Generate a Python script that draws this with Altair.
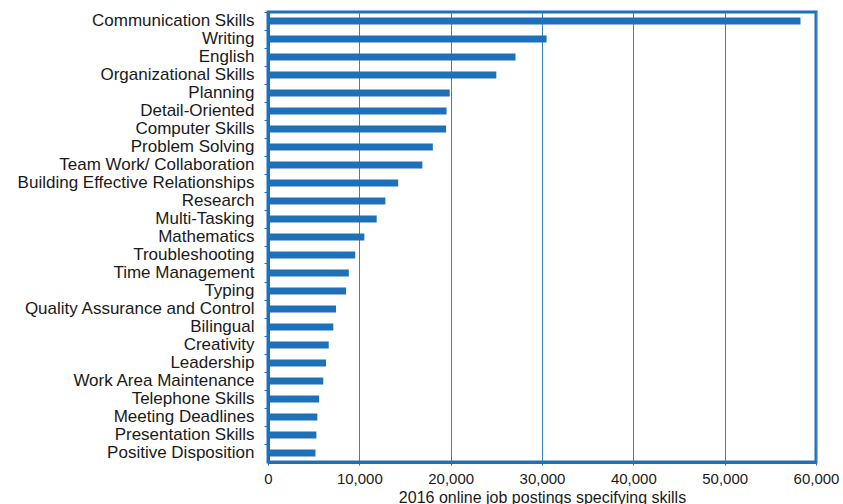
import altair as alt
import pandas as pd

skills = [
    "Communication Skills", "Writing", "English", "Organizational Skills",
    "Planning", "Detail-Oriented", "Computer Skills", "Problem Solving",
    "Team Work/ Collaboration", "Building Effective Relationships", "Research",
    "Multi-Tasking", "Mathematics", "Troubleshooting", "Time Management",
    "Typing", "Quality Assurance and Control", "Bilingual", "Creativity",
    "Leadership", "Work Area Maintenance", "Telephone Skills",
    "Meeting Deadlines", "Presentation Skills", "Positive Disposition",
]
postings = [
    58300, 30500, 27100, 25000,
    19900, 19550, 19500, 18050,
    16900, 14250, 12850,
    11900, 10550, 9550, 8850,
    8550, 7450, 7150, 6650,
    6350, 6050, 5600,
    5400, 5300, 5200,
]
x_ticks = [0, 10000, 20000, 30000, 40000, 50000, 60000]

BLUE = "#1e70b8"
TEXT = "#1a1a1a"
FONT = "Liberation Sans"

df = pd.DataFrame({"skill": skills, "postings": postings})

bars = alt.Chart(df).mark_bar(color=BLUE).encode(
    x=alt.X(
        "postings:Q",
        scale=alt.Scale(domain=[0, 60000], nice=False),
        axis=alt.Axis(
            values=x_ticks,
            format=",d",
            title="2016 online job postings specifying skills",
            grid=True,
            gridColor="#3a7fc1",
            gridWidth=1,
            domainColor=BLUE,
            domainWidth=3,
            tickColor=BLUE,
            tickSize=3,
            labelFlush=False,
            labelPadding=6,
            labelFontSize=15,
            labelColor=TEXT,
            labelFont=FONT,
            titleFont=FONT,
            titleFontSize=16,
            titleFontWeight="normal",
            titleColor=TEXT,
            titlePadding=3,
        ),
    ),
    y=alt.Y(
        "skill:N",
        sort=skills,
        scale=alt.Scale(paddingInner=0.6, paddingOuter=0.3),
        axis=alt.Axis(
            title=None,
            # ticks sit on the boundaries between rows, not on the bars
            bandPosition=-0.75,
            domainColor=BLUE,
            domainWidth=3,
            tickColor=BLUE,
            tickSize=4,
            tickWidth=1,
            labelPadding=10,
            labelFontSize=17,
            labelColor=TEXT,
            labelFont=FONT,
            labelLimit=0,
            grid=False,
        ),
    ),
)

chart = bars.properties(
    width=548,
    height=450,
    autosize=alt.AutoSizeParams(type="none"),
    padding={"left": 268, "top": 12, "right": 27, "bottom": 42},
).configure(background="white").configure_view(
    stroke=BLUE,
    strokeWidth=3,
)

chart.save("out.html", embed_options={"renderer": "svg", "actions": False})
